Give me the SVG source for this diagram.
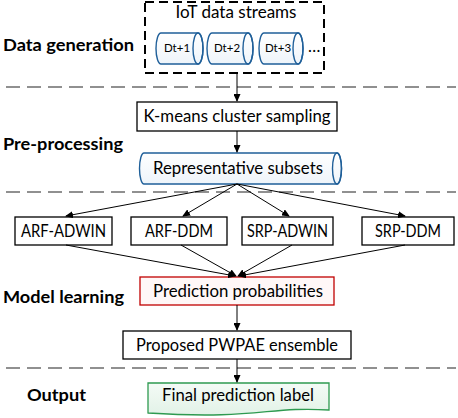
<svg xmlns="http://www.w3.org/2000/svg" width="458" height="418" viewBox="0 0 458 418">
<style>
.lbl{font-family:Lato,"Open Sans","Liberation Sans",sans-serif;font-size:16.5px;fill:#000}
.sec{font-family:Lato,"Open Sans","Liberation Sans",sans-serif;font-size:17px;font-weight:bold;fill:#000}
.small{font-family:Lato,"Open Sans","Liberation Sans",sans-serif;font-size:11.5px;fill:#000}
.box{fill:#fff;stroke:#000;stroke-width:1.3}
.cyl{fill:url(#cylg);stroke:#1f5f99;stroke-width:1.4}
.sep{stroke:#222;stroke-width:1.2;stroke-dasharray:14 7;fill:none}
.con{stroke:#000;stroke-width:1;fill:none;marker-end:url(#ah)}
</style>
<defs>
<linearGradient id="cylg" x1="0" y1="0" x2="0" y2="1">
<stop offset="0" stop-color="#ffffff"/><stop offset="1" stop-color="#eef4fa"/>
</linearGradient>
<linearGradient id="greeng" x1="0" y1="0" x2="0" y2="1">
<stop offset="0" stop-color="#f4fbf6"/><stop offset="1" stop-color="#e2f2e7"/>
</linearGradient>
<marker id="ah" markerUnits="userSpaceOnUse" markerWidth="8" markerHeight="7" refX="7" refY="3.5" orient="auto">
<path d="M0,0 L8,3.5 L0,7 z" fill="#000"/>
</marker>
</defs>

<!-- section labels -->
<text class="sec" x="3" y="51" textLength="131" lengthAdjust="spacingAndGlyphs">Data generation</text>
<text class="sec" x="3" y="150" textLength="120" lengthAdjust="spacingAndGlyphs">Pre-processing</text>
<text class="sec" x="3" y="303" textLength="121" lengthAdjust="spacingAndGlyphs">Model learning</text>
<text class="sec" x="27" y="401" textLength="59" lengthAdjust="spacingAndGlyphs">Output</text>

<!-- separators -->
<line class="sep" x1="6" y1="87" x2="456" y2="87"/>
<line class="sep" x1="6" y1="192" x2="456" y2="192"/>
<line class="sep" x1="6" y1="368" x2="456" y2="368"/>

<g id="iot">
<rect x="145" y="2" width="179" height="71" fill="none" stroke="#000" stroke-width="2" stroke-dasharray="9 5"/>
<text class="lbl" x="236" y="18" text-anchor="middle" textLength="121" lengthAdjust="spacingAndGlyphs">IoT data streams</text>
<g id="dt1">
<path class="cyl" d="M161,33 L198,33 A5,15.5 0 0 1 198,64 L161,64 A5,15.5 0 0 1 161,33 Z"/>
<ellipse cx="198" cy="48.5" rx="5" ry="15.5" fill="none" stroke="#1f5f99" stroke-width="1.4"/>
<text class="small" x="177" y="52" text-anchor="middle">Dt+1</text>
</g>
<g id="dt2">
<path class="cyl" d="M212,33 L248,33 A5,15.5 0 0 1 248,64 L212,64 A5,15.5 0 0 1 212,33 Z"/>
<ellipse cx="248" cy="48.5" rx="5" ry="15.5" fill="none" stroke="#1f5f99" stroke-width="1.4"/>
<text class="small" x="227" y="52" text-anchor="middle">Dt+2</text>
</g>
<g id="dt3">
<path class="cyl" d="M264,33 L298,33 A5,15.5 0 0 1 298,64 L264,64 A5,15.5 0 0 1 264,33 Z"/>
<ellipse cx="298" cy="48.5" rx="5" ry="15.5" fill="none" stroke="#1f5f99" stroke-width="1.4"/>
<text class="small" x="278" y="52" text-anchor="middle" fill="#555">Dt+3</text>
</g>
<text class="lbl" x="308" y="52">…</text>
</g>

<g id="kmeans">
<rect class="box" x="137" y="102" width="200" height="29"/>
<text class="lbl" x="237" y="122" text-anchor="middle" textLength="187" lengthAdjust="spacingAndGlyphs">K-means cluster sampling</text>
</g>

<g id="subsets">
<path class="cyl" d="M144,153 L337,153 A4.5,15.5 0 0 1 337,184 L144,184 A4.5,15.5 0 0 1 144,153 Z"/>
<ellipse cx="337" cy="168.5" rx="4.5" ry="15.5" fill="none" stroke="#1f5f99" stroke-width="1.4"/>
<text class="lbl" x="238" y="174" text-anchor="middle" textLength="170" lengthAdjust="spacingAndGlyphs">Representative subsets</text>
</g>

<g id="arfadwin">
<rect class="box" x="15" y="217" width="97" height="28"/>
<text class="lbl" x="63.5" y="237" text-anchor="middle" textLength="85" lengthAdjust="spacingAndGlyphs">ARF-ADWIN</text>
</g>
<g id="arfddm">
<rect class="box" x="131" y="217" width="96" height="28"/>
<text class="lbl" x="179" y="237" text-anchor="middle" textLength="68" lengthAdjust="spacingAndGlyphs">ARF-DDM</text>
</g>
<g id="srpadwin">
<rect class="box" x="242" y="217" width="91" height="28"/>
<text class="lbl" x="287.5" y="237" text-anchor="middle" textLength="81" lengthAdjust="spacingAndGlyphs">SRP-ADWIN</text>
</g>
<g id="srpddm">
<rect class="box" x="362" y="217" width="92" height="28"/>
<text class="lbl" x="408" y="237" text-anchor="middle" textLength="66" lengthAdjust="spacingAndGlyphs">SRP-DDM</text>
</g>

<g id="predprob">
<rect x="140" y="277" width="194" height="28" fill="#fff7f7" stroke="#c00000" stroke-width="1.3"/>
<text class="lbl" x="238" y="297" text-anchor="middle" textLength="170" lengthAdjust="spacingAndGlyphs">Prediction probabilities</text>
</g>

<g id="pwpae">
<rect class="box" x="123" y="331" width="228" height="28"/>
<text class="lbl" x="237" y="351" text-anchor="middle" textLength="202" lengthAdjust="spacingAndGlyphs">Proposed PWPAE ensemble</text>
</g>

<g id="final">
<path d="M148,383 L329,383 L329,410 C268,406 258,420 148,413 Z" fill="url(#greeng)" stroke="#2e9a50" stroke-width="1.3"/>
<text class="lbl" x="238" y="401" text-anchor="middle" textLength="152" lengthAdjust="spacingAndGlyphs">Final prediction label</text>
</g>

<g id="connectors">
<line class="con" x1="237" y1="74" x2="237" y2="101"/>
<line class="con" x1="237" y1="131" x2="237" y2="152"/>
<line class="con" x1="237" y1="184" x2="66" y2="216"/>
<line class="con" x1="237" y1="184" x2="183" y2="216"/>
<line class="con" x1="237" y1="184" x2="289" y2="216"/>
<line class="con" x1="237" y1="184" x2="405" y2="216"/>
<line class="con" x1="66" y1="245" x2="235" y2="276"/>
<line class="con" x1="181" y1="245" x2="236" y2="276"/>
<line class="con" x1="292" y1="245" x2="238" y2="276"/>
<line class="con" x1="405" y1="245" x2="239" y2="276"/>
<line class="con" x1="237" y1="305" x2="237" y2="330"/>
<line class="con" x1="237" y1="359" x2="237" y2="382"/>
</g>
</svg>
